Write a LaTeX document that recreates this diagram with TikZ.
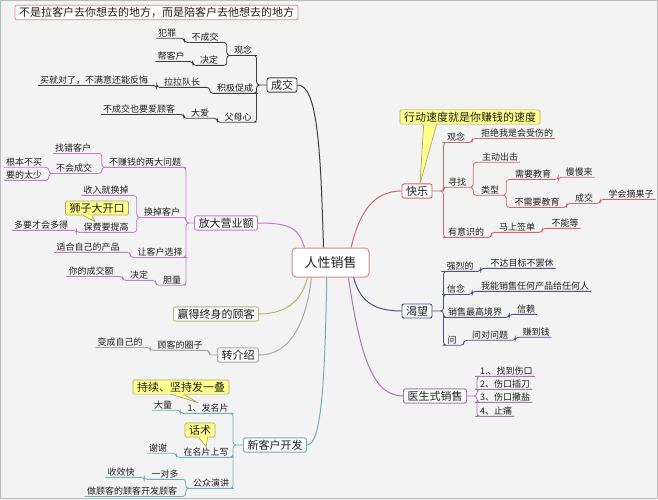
\documentclass[tikz,border=0pt]{standalone}
\usepackage{fontspec}
\usepackage{tikz}
\newfontfamily\cjk{Noto Sans CJK SC}
\definecolor{pagebg}{HTML}{F3F3F3}
\definecolor{pagefr}{HTML}{BBBBBB}
\definecolor{hubfr}{HTML}{D68A8A}
\definecolor{boxbg}{HTML}{FAFAFA}
\definecolor{inktxt}{HTML}{202020}
\definecolor{notebg}{HTML}{FFFF8C}
\definecolor{notefr}{HTML}{A9A96A}
\definecolor{cbDeal}{HTML}{3E3E3E}
\definecolor{cbGrow}{HTML}{C47AD0}
\definecolor{cbLife}{HTML}{B6B56C}
\definecolor{cbRefer}{HTML}{A8A8A8}
\definecolor{cbNew}{HTML}{6DB2B2}
\definecolor{cbJoy}{HTML}{CF6A6A}
\definecolor{cbWant}{HTML}{4E5187}
\definecolor{cbDoc}{HTML}{A47BAA}

\begin{document}
\begin{tikzpicture}[x=1pt,y=-1pt,font=\cjk,
  hub/.style={draw=hubfr,fill=white,rounded corners=4pt,line width=1pt,text=inktxt,
    font=\cjk\fontsize{13}{15}\selectfont,minimum width=77pt,minimum height=29pt},
  banner/.style={draw=hubfr,fill=white,rounded corners=2pt,line width=0.8pt,text=inktxt,
    font=\cjk\fontsize{11}{13}\selectfont,inner xsep=4pt,inner ysep=2pt},
  topic/.style={draw=#1,fill=boxbg,rounded corners=2pt,line width=0.9pt,text=inktxt,
    font=\cjk\fontsize{11}{13}\selectfont,inner xsep=4pt,inner ysep=2pt},
  leaf/.style={text=inktxt,font=\cjk\fontsize{9}{10}\selectfont,inner xsep=2pt,inner ysep=1pt},
  note/.style={draw=notefr,fill=notebg,line width=0.7pt,rounded corners=1.5pt,text=inktxt,
    font=\cjk\fontsize{11}{13}\selectfont,inner xsep=4pt,inner ysep=2pt},
  tip/.style={notefr,line width=0.7pt,line join=round},
  stem/.style={line width=1pt},
  twig/.style={line width=0.8pt,rounded corners=3pt},
  linkl/.style={to path={-- ++(-#1,0) |- (\tikztotarget.south east) -- (\tikztotarget.south west)}},
  linkl/.default=5,
  linkr/.style={to path={-- ++(#1,0) |- (\tikztotarget.south west) -- (\tikztotarget.south east)}},
  linkr/.default=5]
\useasboundingbox (0,0) rectangle (658,500);
\fill[pagebg] (0,0) rectangle (658,500);
\draw[pagefr] (0.5,0.5) rectangle (657.5,498.5);

\node[hub] (rx) at (330.5,262.5) {人性销售};
\node[banner] (slogan) at (156.5,12.5) {不是拉客户去你想去的地方，而是陪客户去他想去的地方};

% 成交
\node[topic=cbDeal] (cj) at (282,85) {成交};
\node[leaf] (cjGn) at (243,50) {观念};
\node[leaf] (cjBcj) at (205,37) {不成交};
\node[leaf] (cjFz) at (167,33) {犯罪};
\node[leaf] (cjJd) at (209,60) {决定};
\node[leaf] (cjBkh) at (171,56) {帮客户};
\node[leaf] (cjJj) at (235,88) {积极促成};
\node[leaf] (cjLl) at (182,82) {拉拉队长};
\node[leaf] (cjMj) at (94,80) {买就对了，不满意还能反悔};
\node[leaf] (cjFm) at (238,117) {父母心};
\node[leaf] (cjDa) at (200,113) {大爱};
\node[leaf] (cjAi) at (139,109) {不成交也要爱顾客};

% 放大营业额
\node[topic=cbGrow] (fd) at (226,223) {放大营业额};
\node[leaf] (fdWt) at (145,162) {不赚钱的两大问题};
\node[leaf] (fdZc) at (73,148) {找错客户};
\node[leaf] (fdBh) at (74,168) {不会成交};
\node[leaf] (fdGb) at (24,162) {根本不买};
\node[leaf] (fdYs) at (24,175) {要的太少};
\node[leaf] (fdHd) at (162,212) {换掉客户};
\node[leaf] (fdSr) at (106,190) {收入就换掉};
\node[leaf] (fdBf) at (106,227) {保费要提高};
\node[leaf] (fdDy) at (41,225) {多要才会多得};
\node[leaf] (fdRk) at (160,252) {让客户选择};
\node[leaf] (fdSh) at (88,247) {适合自己的产品};
\node[leaf] (fdDl) at (172,280) {胆量};
\node[leaf] (fdJd) at (139,275) {决定};
\node[leaf] (fdCj) at (91,271) {你的成交额};

% 赢得终身的顾客, 转介绍
\node[topic=cbLife] (yd) at (216,314) {赢得终身的顾客};
\node[topic=cbRefer] (zj) at (238,355) {转介绍};
\node[leaf] (zjQz) at (180,345) {顾客的圈子};
\node[leaf] (zjBc) at (120,342) {变成自己的};

% 新客户开发
\node[topic=cbNew] (xk) at (275,445) {新客户开发};
\node[leaf] (xkFm) at (208,408) {1、发名片};
\node[leaf] (xkDl) at (163,405) {大量};
\node[leaf] (xkZm) at (206,452) {在名片上写};
\node[leaf] (xkXx) at (158,448) {谢谢};
\node[leaf] (xkGz) at (211,483) {公众演讲};
\node[leaf] (xkYd) at (165,474) {一对多};
\node[leaf] (xkSx) at (121,472) {收效快};
\node[leaf] (xkZg) at (132,491) {做顾客的顾客开发顾客};

% 快乐
\node[topic=cbJoy] (kl) at (417,191) {快乐};
\node[leaf] (klGn) at (456,137) {观念};
\node[leaf] (klJj) at (517,133) {拒绝我是会受伤的};
\node[leaf] (klXz) at (457,182) {寻找};
\node[leaf] (klZd) at (500,157) {主动出击};
\node[leaf] (klLx) at (490,190) {类型};
\node[leaf] (klXy) at (533,174) {需要教育};
\node[leaf] (klMm) at (579,172) {慢慢来};
\node[leaf] (klBx) at (537,202) {不需要教育};
\node[leaf] (klCj) at (584,198) {成交};
\node[leaf] (klZg) at (631,194) {学会摘果子};
\node[leaf] (klYs) at (466,232) {有意识的};
\node[leaf] (klMs) at (517,227) {马上签单};
\node[leaf] (klBn) at (565,223) {不能等};

% 渴望
\node[topic=cbWant] (kw) at (417,311) {渴望};
\node[leaf] (kwQl) at (460,266) {强烈的};
\node[leaf] (kwBd) at (522,263) {不达目标不罢休};
\node[leaf] (kwXn) at (456,289) {信念};
\node[leaf] (kwWn) at (535,286) {我能销售任何产品给任何人};
\node[leaf] (kwXs) at (475,312) {销售最高境界};
\node[leaf] (kwXl) at (526,309) {信赖};
\node[leaf] (kwWen) at (452,340) {问};
\node[leaf] (kwWd) at (490,335) {问对问题};
\node[leaf] (kwZd) at (536,332) {赚到钱};

% 医生式销售
\node[topic=cbDoc] (ys) at (435,396) {医生式销售};
\node[leaf,anchor=west] (ys1) at (478,371) {1.、找到伤口};
\node[leaf,anchor=west] (ys2) at (478,384) {2、伤口插刀};
\node[leaf,anchor=west] (ys3) at (478,397) {3、伤口撒盐};
\node[leaf,anchor=west] (ys4) at (478,411) {4、止痛};

% main branches
\draw[cbDeal,stem] (cj.east) .. controls +(20,0) and +(-3,-100) .. (rx.115);
\draw[cbGrow,stem] (fd.east) .. controls +(35,0) and +(-6,-18) .. (rx.150);
\draw[cbLife,stem] (yd.east) .. controls +(32,0) and +(-4,18) .. (rx.213);
\draw[cbRefer,stem] (zj.east) .. controls +(38,0) and +(-3,30) .. (rx.218);
\draw[cbNew,stem] (xk.east) .. controls +(14,0) and +(-2,110) .. (rx.256);
\draw[cbJoy,stem] (kl.west) .. controls +(-28,0) and +(8,-35) .. (rx.36);
\draw[cbWant,stem] (kw.west) .. controls +(-30,0) and +(6,22) .. (rx.-33);
\draw[cbDoc,stem] (ys.west) .. controls +(-30,0) and +(12,80) .. (rx.-40);

% 成交 links
\draw[cbDeal,twig] (cj.west) to[linkl=10] (cjGn) (cj.west) to[linkl=10] (cjJj) (cj.west) to[linkl=10] (cjFm);
\draw[cbDeal,twig] (cjGn.south west) to[linkl] (cjBcj) (cjGn.south west) to[linkl] (cjJd);
\draw[cbDeal,twig] (cjBcj.south west) to[linkl] (cjFz);
\draw[cbDeal,twig] (cjJd.south west) to[linkl] (cjBkh);
\draw[cbDeal,twig] (cjJj.south west) to[linkl] (cjLl);
\draw[cbDeal,twig] (cjLl.south west) to[linkl] (cjMj);
\draw[cbDeal,twig] (cjFm.south west) to[linkl] (cjDa);
\draw[cbDeal,twig] (cjDa.south west) to[linkl] (cjAi);

% 放大营业额 links
\draw[cbGrow,twig] (fd.west) to[linkl=8] (fdWt) (fd.west) to[linkl=8] (fdHd) (fd.west) to[linkl=8] (fdRk) (fd.west) to[linkl=8] (fdDl);
\draw[cbGrow,twig] (fdWt.south west) to[linkl] (fdZc) (fdWt.south west) to[linkl] (fdBh);
\draw[cbGrow,twig] (fdBh.south west) to[linkl] (fdGb) (fdBh.south west) to[linkl] (fdYs);
\draw[cbGrow,twig] (fdHd.south west) to[linkl] (fdSr) (fdHd.south west) to[linkl] (fdBf);
\draw[cbGrow,twig] (fdBf.south west) to[linkl] (fdDy);
\draw[cbGrow,twig] (fdRk.south west) to[linkl] (fdSh);
\draw[cbGrow,twig] (fdDl.south west) to[linkl] (fdJd);
\draw[cbGrow,twig] (fdJd.south west) to[linkl] (fdCj);

% 转介绍 links
\draw[cbRefer,twig] (zj.west) to[linkl=8] (zjQz);
\draw[cbRefer,twig] (zjQz.south west) to[linkl] (zjBc);

% 新客户开发 links
\draw[cbNew,twig] (xk.west) to[linkl=10] (xkFm) (xk.west) to[linkl=10] (xkZm) (xk.west) to[linkl=10] (xkGz);
\draw[cbNew,twig] (xkFm.south west) to[linkl] (xkDl);
\draw[cbNew,twig] (xkZm.south west) to[linkl] (xkXx);
\draw[cbNew,twig] (xkGz.south west) to[linkl] (xkYd) (xkGz.south west) to[linkl] (xkZg);
\draw[cbNew,twig] (xkYd.south west) to[linkl] (xkSx);

% 快乐 links
\draw[cbJoy,twig] (kl.east) to[linkr=11] (klGn) (kl.east) to[linkr=11] (klXz) (kl.east) to[linkr=11] (klYs);
\draw[cbJoy,twig] (klGn.south east) to[linkr] (klJj);
\draw[cbJoy,twig] (klXz.south east) to[linkr] (klZd) (klXz.south east) to[linkr] (klLx);
\draw[cbJoy,twig] (klLx.south east) to[linkr] (klXy) (klLx.south east) to[linkr] (klBx);
\draw[cbJoy,twig] (klXy.south east) to[linkr] (klMm);
\draw[cbJoy,twig] (klBx.south east) to[linkr] (klCj);
\draw[cbJoy,twig] (klCj.south east) to[linkr] (klZg);
\draw[cbJoy,twig] (klYs.south east) to[linkr] (klMs);
\draw[cbJoy,twig] (klMs.south east) to[linkr] (klBn);

% 渴望 links
\draw[cbWant,twig] (kw.east) to[linkr=11] (kwQl) (kw.east) to[linkr=11] (kwXn) (kw.east) to[linkr=11] (kwXs) (kw.east) to[linkr=11] (kwWen);
\draw[cbWant,twig] (kwQl.south east) to[linkr] (kwBd);
\draw[cbWant,twig] (kwXn.south east) to[linkr] (kwWn);
\draw[cbWant,twig] (kwXs.south east) to[linkr] (kwXl);
\draw[cbWant,twig] (kwWen.south east) to[linkr] (kwWd);
\draw[cbWant,twig] (kwWd.south east) to[linkr] (kwZd);

% 医生式销售 links
\draw[cbDoc,twig] (ys.east) to[linkr=10] (ys1) (ys.east) to[linkr=10] (ys2) (ys.east) to[linkr=10] (ys3) (ys.east) to[linkr=10] (ys4);

% notes
\node[note] (klXd) at (470,117) {行动速度就是你赚钱的速度};
\fill[notebg] ([xshift=24pt,yshift=1pt]klXd.south west) -- ([xshift=3pt]kl.north) -- ([xshift=37pt,yshift=1pt]klXd.south west) -- cycle;
\draw[tip] ([xshift=24pt]klXd.south west) -- ([xshift=3pt]kl.north) -- ([xshift=37pt]klXd.south west);

\node[note] (fdSz) at (97,208) {狮子大开口};
\fill[notebg] ([xshift=18pt,yshift=1pt]fdSz.south west) -- ([xshift=-11pt]fdBf.north) -- ([xshift=27pt,yshift=1pt]fdSz.south west) -- cycle;
\draw[tip] ([xshift=18pt]fdSz.south west) -- ([xshift=-11pt]fdBf.north) -- ([xshift=27pt]fdSz.south west);

\node[note] (xkCx) at (181,387) {持续、坚持发一叠};
\fill[notebg] ([xshift=39pt,yshift=1pt]xkCx.south west) -- ([xshift=-10pt]xkFm.north) -- ([xshift=51pt,yshift=1pt]xkCx.south west) -- cycle;
\draw[tip] ([xshift=39pt]xkCx.south west) -- ([xshift=-10pt]xkFm.north) -- ([xshift=51pt]xkCx.south west);

\node[note] (xkHs) at (200,430) {话术};
\fill[notebg] ([xshift=14pt,yshift=1pt]xkHs.south west) -- (xkZm.north) -- ([xshift=23pt,yshift=1pt]xkHs.south west) -- cycle;
\draw[tip] ([xshift=14pt]xkHs.south west) -- (xkZm.north) -- ([xshift=23pt]xkHs.south west);
\end{tikzpicture}
\end{document}
